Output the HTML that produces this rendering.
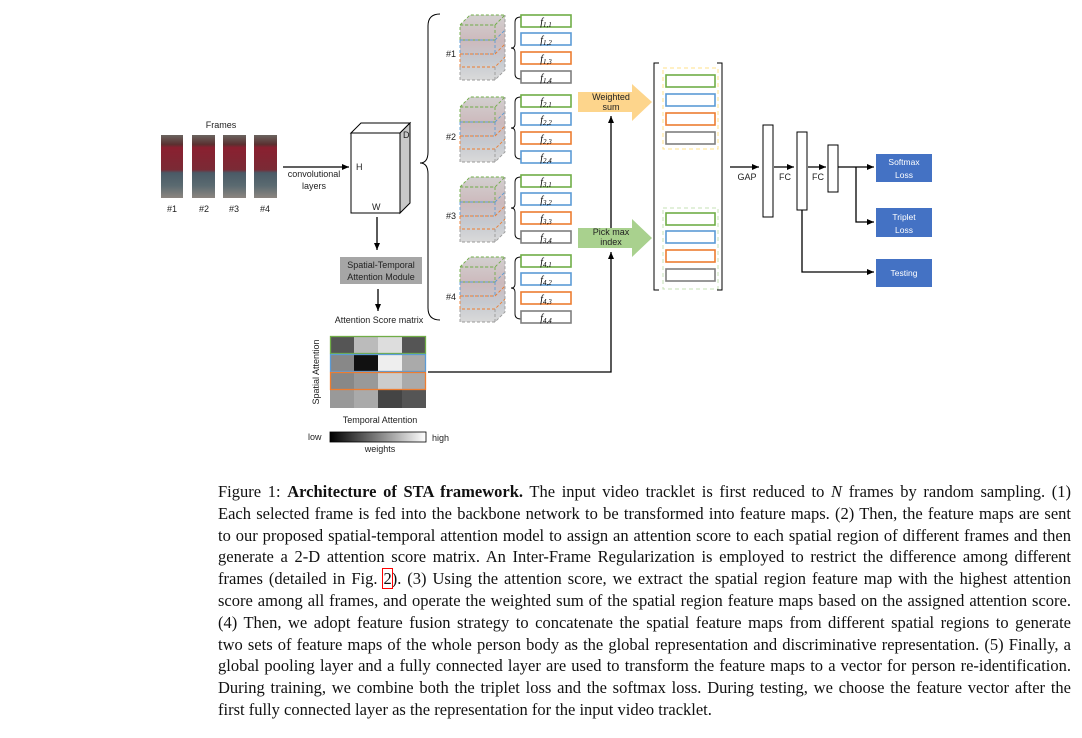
<!DOCTYPE html>
<html><head><meta charset="utf-8"><style>
body{margin:0;background:#fff;width:1082px;height:738px;overflow:hidden;position:relative}
svg{position:absolute;left:0;top:0}
.s{font-family:"Liberation Sans",sans-serif;font-size:9px;fill:#222}
.cap{position:absolute;left:218px;width:853px;font-family:"Liberation Serif",serif;font-size:16.5px;line-height:21.8px;top:481px;color:#111}
.cap div{text-align:justify;text-align-last:justify;white-space:nowrap}
.cap div.l{text-align-last:left}
</style></head><body>
<svg width="1082" height="480" viewBox="0 0 1082 480">
<defs>
<marker id="a" markerWidth="8" markerHeight="8" refX="7" refY="4" orient="auto" markerUnits="userSpaceOnUse"><path d="M0,1 L7,4 L0,7z" fill="#000"/></marker>
<linearGradient id="p" x1="0" y1="0" x2="0" y2="1">
<stop offset="0" stop-color="#6b6460"/><stop offset=".15" stop-color="#5a3030"/><stop offset=".2" stop-color="#8a2030"/><stop offset=".55" stop-color="#7a2a35"/><stop offset=".6" stop-color="#4a5a66"/><stop offset=".8" stop-color="#5a6a70"/><stop offset="1" stop-color="#8c8580"/></linearGradient>
<linearGradient id="w" x1="0" x2="1"><stop offset="0" stop-color="#000"/><stop offset="1" stop-color="#fff"/></linearGradient>
<linearGradient id="c" x1="0" y1="0" x2="0" y2="1"><stop offset="0" stop-color="#c8c4c4"/><stop offset=".4" stop-color="#c0a8ac"/><stop offset=".7" stop-color="#b8bcc4"/><stop offset="1" stop-color="#d0d0d0"/></linearGradient>
</defs>
<text class="s" x="221" y="128" text-anchor="middle">Frames</text>
<rect x="161" y="135" width="22" height="63" fill="url(#p)"/>
<rect x="192" y="135" width="23" height="63" fill="url(#p)"/>
<rect x="223" y="135" width="23" height="63" fill="url(#p)"/>
<rect x="254" y="135" width="23" height="63" fill="url(#p)"/>
<text class="s" x="172" y="212" text-anchor="middle">#1</text>
<text class="s" x="204" y="212" text-anchor="middle">#2</text>
<text class="s" x="234" y="212" text-anchor="middle">#3</text>
<text class="s" x="265" y="212" text-anchor="middle">#4</text>
<line x1="283" y1="167" x2="349" y2="167" stroke="#000" stroke-width="1.3" marker-end="url(#a)"/>
<text class="s" x="314" y="177" text-anchor="middle">convolutional</text>
<text class="s" x="314" y="189" text-anchor="middle">layers</text>
<path d="M351,133 L361,123 L410,123 L400,133z" fill="#fff" stroke="#000"/>
<path d="M400,133 L410,123 L410,203 L400,213z" fill="#c8c8c8" stroke="#000"/>
<rect x="351" y="133" width="49" height="80" fill="#fff" stroke="#000"/>
<text class="s" x="403" y="138" font-size="10">D</text>
<text class="s" x="356" y="170" font-size="10">H</text>
<text class="s" x="372" y="210" font-size="10">W</text>
<line x1="377" y1="217" x2="377" y2="250" stroke="#000" stroke-width="1.3" marker-end="url(#a)"/>
<rect x="340" y="257" width="82" height="27" fill="#a6a6a6"/>
<text class="s" x="381" y="268" text-anchor="middle">Spatial-Temporal</text>
<text class="s" x="381" y="280" text-anchor="middle">Attention Module</text>
<line x1="378" y1="289" x2="378" y2="311" stroke="#000" stroke-width="1.3" marker-end="url(#a)"/>
<text class="s" x="379" y="323" text-anchor="middle">Attention Score matrix</text>
<g>
<rect x="330" y="336" width="96" height="72" fill="#999"/>
<rect x="330" y="336" width="24" height="18" fill="#555"/><rect x="354" y="336" width="24" height="18" fill="#bbb"/><rect x="378" y="336" width="24" height="18" fill="#ddd"/><rect x="402" y="336" width="24" height="18" fill="#555"/>
<rect x="330" y="354" width="24" height="18" fill="#888"/><rect x="354" y="354" width="24" height="18" fill="#111"/><rect x="378" y="354" width="24" height="18" fill="#eee"/><rect x="402" y="354" width="24" height="18" fill="#aaa"/>
<rect x="330" y="372" width="24" height="18" fill="#888"/><rect x="354" y="372" width="24" height="18" fill="#999"/><rect x="378" y="372" width="24" height="18" fill="#ccc"/><rect x="402" y="372" width="24" height="18" fill="#aaa"/>
<rect x="330" y="390" width="24" height="18" fill="#999"/><rect x="354" y="390" width="24" height="18" fill="#aaa"/><rect x="378" y="390" width="24" height="18" fill="#444"/><rect x="402" y="390" width="24" height="18" fill="#555"/>
<rect x="330.5" y="336.5" width="95" height="17" fill="none" stroke="#70ad47" stroke-width="1.3"/>
<rect x="330.5" y="354.5" width="95" height="17" fill="none" stroke="#5b9bd5" stroke-width="1.3"/>
<rect x="330.5" y="372.5" width="95" height="17" fill="none" stroke="#ed7d31" stroke-width="1.3"/>
</g>
<text class="s" transform="translate(319,372) rotate(-90)" text-anchor="middle">Spatial Attention</text>
<text class="s" x="380" y="423" text-anchor="middle">Temporal Attention</text>
<text class="s" x="308" y="440">low</text>
<rect x="330" y="432" width="96" height="10" fill="url(#w)" stroke="#000" stroke-width=".8"/>
<text class="s" x="432" y="441">high</text>
<text class="s" x="380" y="452" text-anchor="middle">weights</text>
<polyline points="428,372 611,372 611,252" fill="none" stroke="#000" stroke-width="1.3" marker-end="url(#a)"/>
<line x1="611" y1="228" x2="611" y2="116" stroke="#000" stroke-width="1.3" marker-end="url(#a)"/>
<path d="M440,14 Q428,14 428,26 L428,152 Q428,163 420,163 Q428,163 428,174 L428,308 Q428,320 440,320" fill="none" stroke="#000" stroke-width="1"/>
<path d="M578,92 L632,92 L632,84 L652,102 L632,121 L632,112 L578,112z" fill="#fdd58c"/>
<text class="s" x="611" y="100" text-anchor="middle" font-size="7.5">Weighted</text>
<text class="s" x="611" y="110" text-anchor="middle" font-size="7.5">sum</text>
<path d="M578,228 L632,228 L632,219 L652,238 L632,257 L632,248 L578,248z" fill="#a9d18e"/>
<text class="s" x="611" y="235" text-anchor="middle" font-size="7.5">Pick max</text>
<text class="s" x="611" y="245" text-anchor="middle" font-size="7.5">index</text>
<path d="M659,63 L654,63 L654,290 L659,290 M717,63 L722,63 L722,290 L717,290" fill="none" stroke="#000" stroke-width="1"/>
<rect x="663" y="68" width="55" height="81" fill="none" stroke="#ffe08a" stroke-dasharray="4,3"/>
<rect x="663" y="208" width="55" height="81" fill="none" stroke="#c5e0b4" stroke-dasharray="4,3"/>
<g fill="#fff" stroke-width="1.6">
<rect x="666" y="75" width="49" height="12" stroke="#70ad47"/><rect x="666" y="94" width="49" height="12" stroke="#5b9bd5"/><rect x="666" y="113" width="49" height="12" stroke="#ed7d31"/><rect x="666" y="132" width="49" height="12" stroke="#7f7f7f"/>
<rect x="666" y="213" width="49" height="12" stroke="#70ad47"/><rect x="666" y="231" width="49" height="12" stroke="#5b9bd5"/><rect x="666" y="250" width="49" height="12" stroke="#ed7d31"/><rect x="666" y="269" width="49" height="12" stroke="#7f7f7f"/>
</g>
<line x1="730" y1="167" x2="759" y2="167" stroke="#000" stroke-width="1.3" marker-end="url(#a)"/>
<text class="s" x="747" y="180" text-anchor="middle" font-size="8">GAP</text>
<rect x="763" y="125" width="10" height="92" fill="#fff" stroke="#000"/>
<line x1="774" y1="167" x2="794" y2="167" stroke="#000" stroke-width="1.3" marker-end="url(#a)"/>
<text class="s" x="785" y="180" text-anchor="middle" font-size="8">FC</text>
<rect x="797" y="132" width="10" height="78" fill="#fff" stroke="#000"/>
<line x1="808" y1="167" x2="826" y2="167" stroke="#000" stroke-width="1.3" marker-end="url(#a)"/>
<text class="s" x="818" y="180" text-anchor="middle" font-size="8">FC</text>
<rect x="828" y="145" width="10" height="47" fill="#fff" stroke="#000"/>
<line x1="838" y1="167" x2="874" y2="167" stroke="#000" stroke-width="1.3" marker-end="url(#a)"/>
<polyline points="856,167 856,222 874,222" fill="none" stroke="#000" stroke-width="1.3" marker-end="url(#a)"/>
<polyline points="802,210 802,272 874,272" fill="none" stroke="#000" stroke-width="1.3" marker-end="url(#a)"/>
<rect x="876" y="154" width="56" height="28" fill="#4472c4"/>
<text x="904" y="165" text-anchor="middle" font-family="Liberation Sans" font-size="8.5" fill="#fff">Softmax</text>
<text x="904" y="178" text-anchor="middle" font-family="Liberation Sans" font-size="8.5" fill="#fff">Loss</text>
<rect x="876" y="208" width="56" height="29" fill="#4472c4"/>
<text x="904" y="220" text-anchor="middle" font-family="Liberation Sans" font-size="8.5" fill="#fff">Triplet</text>
<text x="904" y="233" text-anchor="middle" font-family="Liberation Sans" font-size="8.5" fill="#fff">Loss</text>
<rect x="876" y="259" width="56" height="28" fill="#4472c4"/>
<text x="904" y="276" text-anchor="middle" font-family="Liberation Sans" font-size="8.5" fill="#fff">Testing</text>
<g stroke-dasharray="3,2" stroke-width="0.9" fill="none">
<g transform="translate(0,0)">
<path d="M460,25 L470,15 L505,15 L505,70 L495,80 L460,80z" fill="url(#c)" stroke="none" opacity=".8"/>
<path d="M460,25 L470,15 L505,15 L495,25z M460,25 L495,25 L495,40 L460,40z M495,25 L505,15" stroke="#70ad47"/>
<path d="M460,40 L495,40 L505,30 M460,40 L460,54 L495,54 L495,40" stroke="#5b9bd5"/>
<path d="M460,54 L495,54 L505,44 M460,54 L460,67 L495,67 L505,57" stroke="#ed7d31"/>
<path d="M460,67 L460,80 L495,80 L505,70 L505,15 M495,67 L495,80" stroke="#999"/>
</g>
<g transform="translate(0,82)">
<path d="M460,25 L470,15 L505,15 L505,70 L495,80 L460,80z" fill="url(#c)" stroke="none" opacity=".8"/>
<path d="M460,25 L470,15 L505,15 L495,25z M460,25 L495,25 L495,40 L460,40z" stroke="#70ad47"/>
<path d="M460,40 L495,40 L505,30 M460,40 L460,54 L495,54 L495,40" stroke="#5b9bd5"/>
<path d="M460,54 L495,54 L505,44 M460,54 L460,67 L495,67 L505,57" stroke="#ed7d31"/>
<path d="M460,67 L460,80 L495,80 L505,70 L505,15 M495,67 L495,80" stroke="#999"/>
</g>
<g transform="translate(0,162)">
<path d="M460,25 L470,15 L505,15 L505,70 L495,80 L460,80z" fill="url(#c)" stroke="none" opacity=".8"/>
<path d="M460,25 L470,15 L505,15 L495,25z M460,25 L495,25 L495,40 L460,40z" stroke="#70ad47"/>
<path d="M460,40 L495,40 L505,30 M460,40 L460,54 L495,54 L495,40" stroke="#5b9bd5"/>
<path d="M460,54 L495,54 L505,44 M460,54 L460,67 L495,67 L505,57" stroke="#ed7d31"/>
<path d="M460,67 L460,80 L495,80 L505,70 L505,15 M495,67 L495,80" stroke="#999"/>
</g>
<g transform="translate(0,242)">
<path d="M460,25 L470,15 L505,15 L505,70 L495,80 L460,80z" fill="url(#c)" stroke="none" opacity=".8"/>
<path d="M460,25 L470,15 L505,15 L495,25z M460,25 L495,25 L495,40 L460,40z" stroke="#70ad47"/>
<path d="M460,40 L495,40 L505,30 M460,40 L460,54 L495,54 L495,40" stroke="#5b9bd5"/>
<path d="M460,54 L495,54 L505,44 M460,54 L460,67 L495,67 L505,57" stroke="#ed7d31"/>
<path d="M460,67 L460,80 L495,80 L505,70 L505,15 M495,67 L495,80" stroke="#999"/>
</g>
</g>
<text class="s" x="446" y="57">#1</text>
<text class="s" x="446" y="140">#2</text>
<text class="s" x="446" y="219">#3</text>
<text class="s" x="446" y="300">#4</text>
<g fill="none" stroke="#000" stroke-width=".9">
<path d="M521,17 Q515,17 515,22 L515,44 Q515,48 511,48 Q515,48 515,52 L515,74 Q515,79 521,79"/>
<path d="M521,97 Q515,97 515,102 L515,124 Q515,128 511,128 Q515,128 515,132 L515,154 Q515,159 521,159"/>
<path d="M521,177 Q515,177 515,182 L515,204 Q515,208 511,208 Q515,208 515,212 L515,234 Q515,239 521,239"/>
<path d="M521,257 Q515,257 515,262 L515,284 Q515,288 511,288 Q515,288 515,292 L515,314 Q515,319 521,319"/>
</g>
<g fill="#fff" stroke-width="1.6">
<rect x="521" y="15" width="50" height="12" stroke="#70ad47"/><rect x="521" y="33" width="50" height="12" stroke="#5b9bd5"/><rect x="521" y="52" width="50" height="12" stroke="#ed7d31"/><rect x="521" y="71" width="50" height="12" stroke="#7f7f7f"/>
<rect x="521" y="95" width="50" height="12" stroke="#70ad47"/><rect x="521" y="113" width="50" height="12" stroke="#5b9bd5"/><rect x="521" y="132" width="50" height="12" stroke="#ed7d31"/><rect x="521" y="151" width="50" height="12" stroke="#5b9bd5"/>
<rect x="521" y="175" width="50" height="12" stroke="#70ad47"/><rect x="521" y="193" width="50" height="12" stroke="#5b9bd5"/><rect x="521" y="212" width="50" height="12" stroke="#ed7d31"/><rect x="521" y="231" width="50" height="12" stroke="#7f7f7f"/>
<rect x="521" y="255" width="50" height="12" stroke="#70ad47"/><rect x="521" y="273" width="50" height="12" stroke="#5b9bd5"/><rect x="521" y="292" width="50" height="12" stroke="#ed7d31"/><rect x="521" y="311" width="50" height="12" stroke="#7f7f7f"/>
</g>
<g font-family="Liberation Serif,serif" font-style="italic" font-size="10" text-anchor="middle" fill="#000">
<text x="546" y="25">f<tspan font-size="7" dy="2">1,1</tspan></text><text x="546" y="43">f<tspan font-size="7" dy="2">1,2</tspan></text><text x="546" y="62">f<tspan font-size="7" dy="2">1,3</tspan></text><text x="546" y="81">f<tspan font-size="7" dy="2">1,4</tspan></text>
<text x="546" y="105">f<tspan font-size="7" dy="2">2,1</tspan></text><text x="546" y="123">f<tspan font-size="7" dy="2">2,2</tspan></text><text x="546" y="142">f<tspan font-size="7" dy="2">2,3</tspan></text><text x="546" y="161">f<tspan font-size="7" dy="2">2,4</tspan></text>
<text x="546" y="185">f<tspan font-size="7" dy="2">3,1</tspan></text><text x="546" y="203">f<tspan font-size="7" dy="2">3,2</tspan></text><text x="546" y="222">f<tspan font-size="7" dy="2">3,3</tspan></text><text x="546" y="241">f<tspan font-size="7" dy="2">3,4</tspan></text>
<text x="546" y="265">f<tspan font-size="7" dy="2">4,1</tspan></text><text x="546" y="283">f<tspan font-size="7" dy="2">4,2</tspan></text><text x="546" y="302">f<tspan font-size="7" dy="2">4,3</tspan></text><text x="546" y="321">f<tspan font-size="7" dy="2">4,4</tspan></text>
</g>
</svg>
<div class="cap">
<div>Figure 1: <b>Architecture of STA framework.</b> The input video tracklet is first reduced to <i>N</i> frames by random sampling. (1)</div>
<div>Each selected frame is fed into the backbone network to be transformed into feature maps. (2) Then, the feature maps are sent</div>
<div>to our proposed spatial-temporal attention model to assign an attention score to each spatial region of different frames and then</div>
<div>generate a 2-D attention score matrix. An Inter-Frame Regularization is employed to restrict the difference among different</div>
<div>frames (detailed in Fig. <span style="outline:1px solid red">2</span>). (3) Using the attention score, we extract the spatial region feature map with the highest attention</div>
<div>score among all frames, and operate the weighted sum of the spatial region feature maps based on the assigned attention score.</div>
<div>(4) Then, we adopt feature fusion strategy to concatenate the spatial feature maps from different spatial regions to generate</div>
<div>two sets of feature maps of the whole person body as the global representation and discriminative representation. (5) Finally, a</div>
<div>global pooling layer and a fully connected layer are used to transform the feature maps to a vector for person re-identification.</div>
<div>During training, we combine both the triplet loss and the softmax loss. During testing, we choose the feature vector after the</div>
<div class="l">first fully connected layer as the representation for the input video tracklet.</div>
</div>
</body></html>
